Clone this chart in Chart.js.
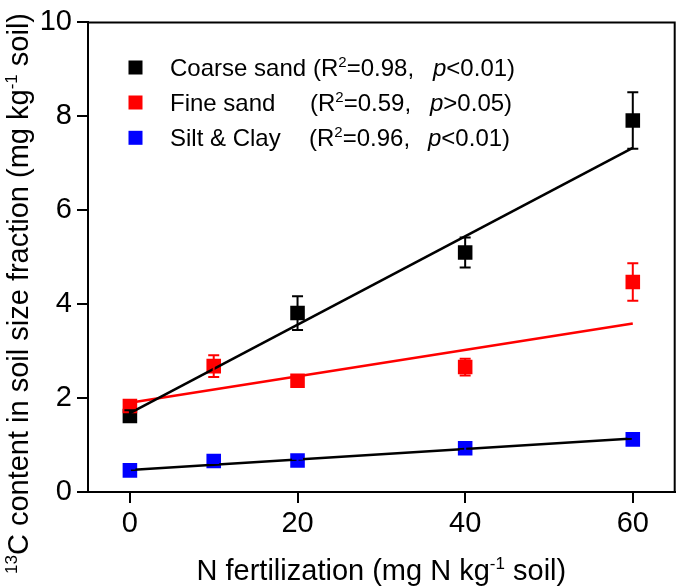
<!DOCTYPE html>
<html><head><meta charset="utf-8">
<script src="https://cdn.jsdelivr.net/npm/chart.js@4/dist/chart.umd.min.js"></script>
<style>html,body{margin:0;padding:0;background:#fff;}canvas{display:block;}</style>
</head><body>
<canvas id="c" width="685" height="587"></canvas>
<script>
// ---- data ----
const xTicks = [0, 20, 40, 60];
const yTicks = [0, 2, 4, 6, 8, 10];

const coarseX = [0, 20, 40, 60];
const coarseY = [1.62, 3.81, 5.10, 7.91];
const coarseErr = [0.12, 0.36, 0.32, 0.60];

const fineX = [0, 10, 20, 40, 60];
const fineY = [1.83, 2.68, 2.37, 2.66, 4.47];
const fineErr = [0.05, 0.23, 0.08, 0.18, 0.40];

const siltX = [0, 10, 20, 40, 60];
const siltY = [0.46, 0.66, 0.67, 0.93, 1.12];
const siltErr = [0.04, 0.04, 0.04, 0.05, 0.05];

const fitX = [0, 60];
const coarseFit = [1.68, 7.33];
const fineFit = [1.90, 3.59];
const siltFit = [0.47, 1.14];

const seriesNames = ['Coarse sand', 'Fine sand', 'Silt & Clay'];
const r2Values = ['0.98', '0.59', '0.96'];
const pValues = ['<0.01', '>0.05', '<0.01'];
const seriesColors = ['#000000', '#ff0000', '#0000ff'];
const fitColors = ['#000000', '#ff0000', '#000000'];

// ---- helpers ----
const FONT = '"Liberation Sans", Arial, Helvetica, sans-serif';
const pts = (xs, ys) => xs.map((x, i) => ({x: x, y: ys[i]}));

function richWidth(ctx, segs) {
  let w = 0;
  segs.forEach(s => { ctx.font = (s.italic ? 'italic ' : '') + s.size + 'px ' + FONT; w += ctx.measureText(s.t).width; });
  return w;
}
function drawRich(ctx, segs, x, y) {
  let cx = x;
  segs.forEach(s => {
    ctx.font = (s.italic ? 'italic ' : '') + s.size + 'px ' + FONT;
    ctx.fillText(s.t, cx, y + (s.dy || 0));
    cx += ctx.measureText(s.t).width;
  });
  return cx;
}

const errorBars = {
  id: 'errorBars',
  afterDatasetsDraw(chart) {
    const ctx = chart.ctx, xs = chart.scales.x, ys = chart.scales.y;
    chart.data.datasets.forEach(ds => {
      if (!ds.errors) return;
      ctx.save();
      ctx.strokeStyle = ds.backgroundColor;
      ctx.lineWidth = 2;
      ds.data.forEach((p, i) => {
        const e = ds.errors[i];
        const px = xs.getPixelForValue(p.x);
        const yt = ys.getPixelForValue(p.y + e), yb = ys.getPixelForValue(p.y - e);
        ctx.beginPath();
        ctx.moveTo(px, yt); ctx.lineTo(px, yb);
        ctx.moveTo(px - 5.5, yt); ctx.lineTo(px + 5.5, yt);
        ctx.moveTo(px - 5.5, yb); ctx.lineTo(px + 5.5, yb);
        ctx.stroke();
      });
      ctx.restore();
    });
  }
};

const decorations = {
  id: 'decorations',
  afterDraw(chart) {
    const ctx = chart.ctx, a = chart.chartArea;
    ctx.save();
    // frame (top and right)
    ctx.strokeStyle = '#000'; ctx.lineWidth = 2;
    ctx.beginPath();
    ctx.moveTo(a.left, a.top); ctx.lineTo(a.right, a.top); ctx.lineTo(a.right, a.bottom);
    ctx.stroke();

    ctx.fillStyle = '#000';
    ctx.textBaseline = 'alphabetic';
    ctx.textAlign = 'left';
    // x title
    const xt = [{t: 'N fertilization (mg N kg', size: 29}, {t: '-1', size: 17, dy: -11}, {t: ' soil)', size: 29}];
    const xw = richWidth(ctx, xt);
    drawRich(ctx, xt, (a.left + a.right) / 2 - xw / 2, 580);
    // y title
    const yt = [{t: '13', size: 17, dy: -11}, {t: 'C content in soil size fraction (mg kg', size: 29}, {t: '-1', size: 17, dy: -11}, {t: ' soil)', size: 29}];
    const yw = richWidth(ctx, yt);
    ctx.save();
    ctx.translate(28, chart.height / 2);
    ctx.rotate(-Math.PI / 2);
    drawRich(ctx, yt, -yw / 2, 0);
    ctx.restore();

    // legend
    const rowY = [67.5, 102.5, 137.8];
    const statX = [313, 310, 309];
    const pX = [433, 430, 428];
    seriesNames.forEach((name, i) => {
      const cy = rowY[i];
      ctx.fillStyle = seriesColors[i];
      ctx.fillRect(128.5, cy - 7, 14, 14);
      ctx.fillStyle = '#000';
      const base = cy + 8.6;
      drawRich(ctx, [{t: name, size: 24}], 170, base);
      drawRich(ctx, [{t: '(R', size: 24}, {t: '2', size: 15, dy: -9}, {t: '=' + r2Values[i] + ',', size: 24}], statX[i], base);
      drawRich(ctx, [{t: 'p', size: 24, italic: true}, {t: pValues[i] + ')', size: 24}], pX[i], base);
    });
    ctx.restore();
  }
};

const markerOpts = c => ({
  pointStyle: 'rect', pointRadius: 10.3, pointHoverRadius: 10.3,
  backgroundColor: c, borderColor: c, borderWidth: 0, showLine: false
});
const lineOpts = c => ({
  type: 'line', borderColor: c, backgroundColor: c, borderWidth: 2.6,
  pointRadius: 0, fill: false, tension: 0
});

new Chart(document.getElementById('c'), {
  type: 'scatter',
  data: {
    datasets: [
      Object.assign({label: 'Coarse sand fit', data: pts(fitX, coarseFit)}, lineOpts(fitColors[0])),
      Object.assign({label: 'Fine sand fit', data: pts(fitX, fineFit)}, lineOpts(fitColors[1])),
      Object.assign({label: 'Silt & Clay fit', data: pts(fitX, siltFit)}, lineOpts(fitColors[2])),
      Object.assign({label: 'Fine sand', data: pts(fineX, fineY), errors: fineErr}, markerOpts(seriesColors[1])),
      Object.assign({label: 'Silt & Clay', data: pts(siltX, siltY), errors: siltErr}, markerOpts(seriesColors[2])),
      Object.assign({label: 'Coarse sand', data: pts(coarseX, coarseY), errors: coarseErr}, markerOpts(seriesColors[0]))
    ]
  },
  options: {
    responsive: false, animation: false, devicePixelRatio: 1,
    layout: {padding: {top: 22, right: 2, left: 0, bottom: 0}},
    plugins: {legend: {display: false}, tooltip: {enabled: false}, title: {display: false}},
    scales: {
      x: {
        type: 'linear', min: -5, max: 65,
        afterBuildTicks: s => { s.ticks = xTicks.map(v => ({value: v})); },
        afterFit: s => { s.height = 95; },
        grid: {display: true, drawOnChartArea: false, drawTicks: true, tickLength: 11, color: '#000', lineWidth: 2},
        border: {display: true, color: '#000', width: 2},
        ticks: {color: '#000', font: {family: FONT, size: 29}, padding: 4, maxRotation: 0}
      },
      y: {
        type: 'linear', min: 0, max: 10,
        afterBuildTicks: s => { s.ticks = yTicks.map(v => ({value: v})); },
        afterFit: s => { s.width = 88; },
        grid: {display: true, drawOnChartArea: false, drawTicks: true, tickLength: 11, color: '#000', lineWidth: 2},
        border: {display: true, color: '#000', width: 2},
        ticks: {color: '#000', font: {family: FONT, size: 29}, padding: 5}
      }
    }
  },
  plugins: [errorBars, decorations]
});
</script>
</body></html>
